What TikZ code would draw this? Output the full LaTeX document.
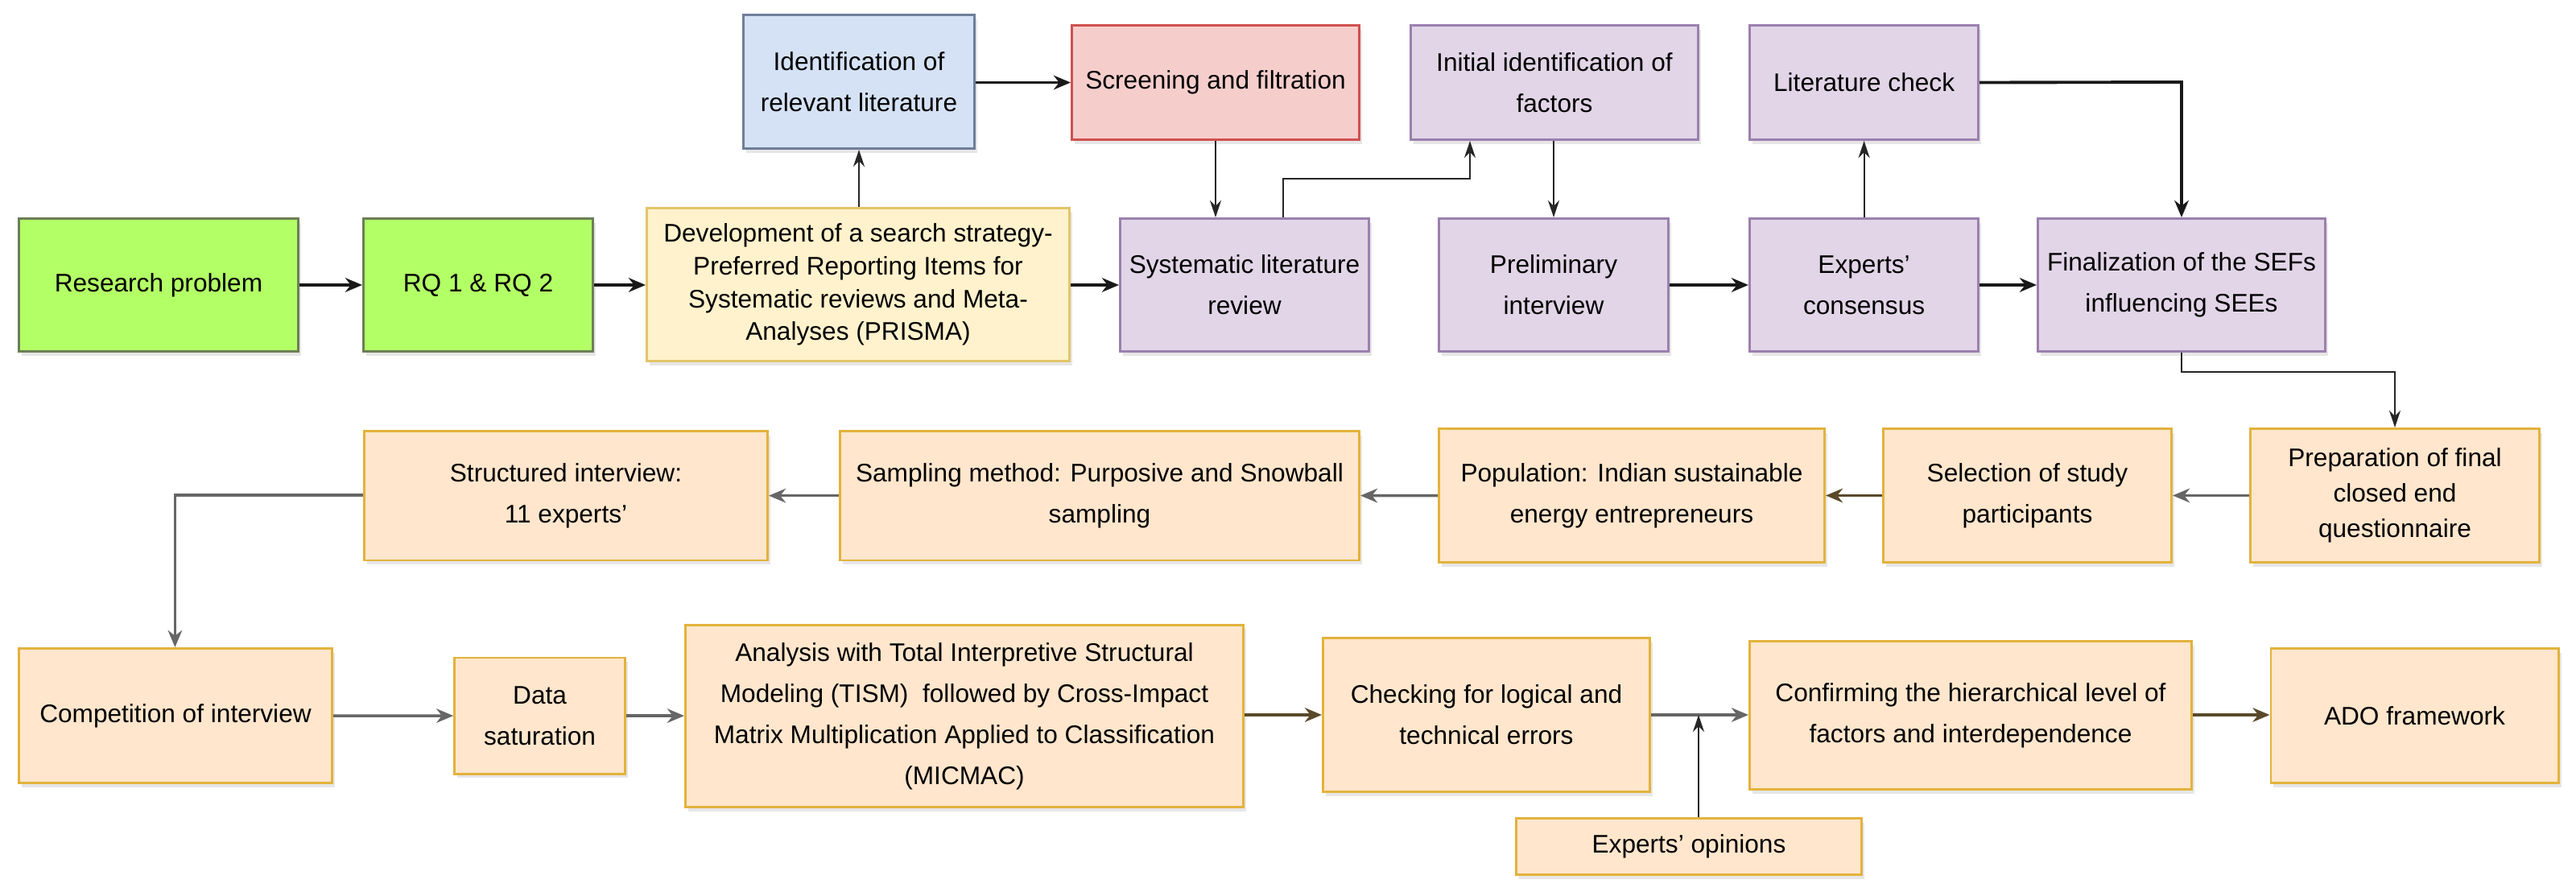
\documentclass[tikz,border=0pt]{standalone}
\usepackage{fontspec}
\setmainfont{Liberation Sans}
\usetikzlibrary{arrows.meta,shadows}
\definecolor{gF}{HTML}{B3FF66}\definecolor{gD}{HTML}{6B7F55}
\definecolor{yF}{HTML}{FFF2CC}\definecolor{yD}{HTML}{E3C46A}
\definecolor{bF}{HTML}{D5E2F5}\definecolor{bD}{HTML}{6E7E99}
\definecolor{rF}{HTML}{F5CECC}\definecolor{rD}{HTML}{D05050}
\definecolor{pF}{HTML}{E1D5E7}\definecolor{pD}{HTML}{9A80AE}
\definecolor{oF}{HTML}{FFE6CC}\definecolor{oD}{HTML}{E3B23C}
\definecolor{brn}{HTML}{5A4A2A}
\begin{document}
\begin{tikzpicture}[x=0.02cm,y=-0.02cm,
  font=\fontsize{9}{14.5}\selectfont,
  bx/.style={draw,line width=0.8pt,align=center,inner sep=1pt,
    drop shadow={opacity=0.2,shadow xshift=1pt,shadow yshift=-1.5pt}},
  G/.style={bx,fill=gF,draw=gD},Y/.style={bx,fill=yF,draw=yD},
  B/.style={bx,fill=bF,draw=bD},R/.style={bx,fill=rF,draw=rD},
  P/.style={bx,fill=pF,draw=pD},O/.style={bx,fill=oF,draw=oD},
  ar/.style={-{Stealth[length=6pt,width=5pt]},line width=1.1pt,black!90},
  athin/.style={-{Stealth[length=6pt,width=4pt]},line width=0.6pt,black!85},
  ag/.style={-{Stealth[length=6pt,width=5pt]},line width=1pt,black!60},
  ab/.style={-{Stealth[length=6pt,width=5pt]},line width=1.1pt,brn}]
\useasboundingbox (0,0) rectangle (1600,553.5);
\newcommand{\bxn}[7]{\node[#1,minimum width=#4*0.02cm-0.8pt,minimum height=#5*0.02cm-0.8pt] (#6) at (#2,#3) {#7};}
% row 1
\bxn{G}{98.5}{177}{175}{84}{rp}{Research problem}
\bxn{G}{297}{177}{144}{84}{rq}{RQ 1 \& RQ 2}
\bxn{Y,font=\fontsize{9}{11.6}\selectfont}{533}{176.75}{264}{96.5}{dev}{Development of a search strategy-\\Preferred Reporting Items for\\Systematic reviews and Meta-\\Analyses (PRISMA)}
\bxn{B}{533.5}{50.75}{145}{84.5}{idn}{Identification of\\relevant literature}
\bxn{R}{755}{51.25}{180}{72.5}{scr}{Screening and filtration}
\bxn{P}{773}{177}{156}{84}{slr}{Systematic literature\\review}
\bxn{P}{965.5}{51.25}{180}{72.5}{ini}{Initial identification of\\factors}
\bxn{P}{965}{177}{144}{84}{pre}{Preliminary\\interview}
\bxn{P}{1157.8}{51.25}{143.6}{72.5}{lit}{Literature check}
\bxn{P}{1157.8}{177}{143.6}{84}{exc}{Experts'\\consensus}
\bxn{P}{1355}{177}{180}{84}{fin}{Finalization of the SEFs\\influencing SEEs}
% row 2
\bxn{O}{351.5}{307.85}{252}{81.7}{str}{Structured interview:\\11 experts'}
\bxn{O}{683}{307.85}{324}{81.7}{sam}{Sampling method: Purposive and Snowball\\sampling}
\bxn{O}{1013.5}{307.75}{241}{84.5}{pop}{Population: Indian sustainable\\energy entrepreneurs}
\bxn{O}{1259.25}{307.75}{180.5}{84.5}{sel}{Selection of study\\participants}
\bxn{O,font=\fontsize{9}{12.5}\selectfont}{1487.5}{307.75}{181}{84.5}{prp}{Preparation of final\\closed end\\questionnaire}
% row 3
\bxn{O}{109}{444.5}{196}{85}{com}{Competition of interview}
\bxn{O}{335.3}{444.55}{107.4}{73.5}{dat}{Data\\saturation}
\bxn{O}{599}{444.7}{348}{114.6}{ana}{Analysis with Total Interpretive Structural\\Modeling (TISM)\ \ followed by Cross-Impact\\Matrix Multiplication Applied to Classification\\(MICMAC)}
\bxn{O}{923.25}{444}{204.5}{97}{chk}{Checking for logical and\\technical errors}
\bxn{O}{1224}{444.25}{276}{93.5}{cnf}{Confirming the hierarchical level of\\factors and interdependence}
\bxn{O}{1499.75}{444.5}{180}{85}{ado}{ADO framework}
\bxn{O}{1049}{525.75}{216}{36.5}{eop}{Experts' opinions}
% arrows row 1
\draw[ar] (rp) -- (rq);
\draw[ar] (rq) -- (rq -| dev.west);
\draw[ar] (dev.east |- slr) -- (slr);
\draw[athin] (dev.north -| idn.south) -- (idn.south);
\draw[ar] (idn.east |- scr) -- (scr);
\draw[athin] (scr.south -| 755,0) -- (755,0 |- slr.north);
\draw[athin] (797,135) -- (797,111) -- (913,111) -- (913,87.5);
\draw[athin] (ini.south -| pre.north) -- (pre.north);
\draw[ar] (pre) -- (exc);
\draw[athin] (exc.north) -- (lit.south);
\draw[ar] (lit.east) -- (1355,51) -- (fin.north);
\draw[ar] (exc) -- (fin);
\draw[athin] (fin.south) -- (1355,231) -- (1487.5,231) -- (prp.north);
% row 2
\draw[ag] (prp) -- (sel);
\draw[ab] (sel) -- (pop);
\draw[ag] (pop) -- (sam);
\draw[ag] (sam) -- (str);
\draw[ag] (str.west |- 0,307.5) -- (108.7,307.5) -- (108.7,402);
% row 3
\draw[ag] (com) -- (dat);
\draw[ag] (dat) -- (dat -| ana.west);
\draw[ab] (ana.east |- chk) -- (chk);
\draw[ag] (chk.east |- 0,444) -- (cnf.west |- 0,444);
\draw[ab] (cnf.east |- 0,444) -- (ado.west |- 0,444);
\draw[athin] (1055,507.5) -- (1055,444);
\end{tikzpicture}
\end{document}
